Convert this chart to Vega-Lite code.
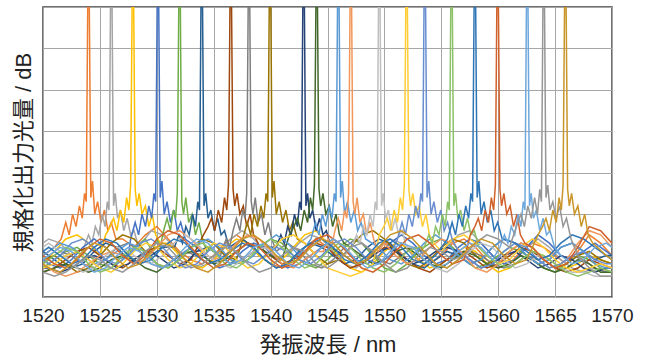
{
  "$schema": "https://vega.github.io/schema/vega-lite/v6.json",
  "autosize": "none",
  "width": 569,
  "height": 290,
  "padding": {"left": 43, "top": 7, "right": 36, "bottom": 61},
  "background": "white",
  "config": {
    "font": "Liberation Sans, Noto Sans CJK JP, sans-serif",
    "view": {"stroke": "#404040", "strokeWidth": 1.5}
  },
  "data": {
    "format": {"type": "csv", "parse": {"s": "string", "x": "number", "y": "number"}},
    "values": "s,x,y\n1,1520,-60\n1,1521,-58\n1,1521.6,-56\n1,1522,-52\n1,1522.3,-55\n1,1522.6,-50\n1,1522.9,-53\n1,1523.2,-48\n1,1523.45,-51\n1,1523.65,-45\n1,1523.8,-47\n1,1523.93,0\n1,1524.07,0\n1,1524.2,-46\n1,1524.35,-42\n1,1524.55,-50\n1,1524.8,-47\n1,1525.1,-52\n1,1525.4,-49\n1,1525.7,-54\n1,1526,-52\n1,1526.4,-56\n1,1527,-56\n1,1528,-58\n1,1529,-55\n1,1530,-53\n1,1531,-56\n1,1532,-59\n1,1533,-61\n1,1534,-62\n1,1535,-60\n1,1536,-57\n1,1537,-55\n1,1538,-57\n1,1539,-60\n1,1540,-62\n1,1541,-63\n1,1542,-61\n1,1543,-58\n1,1544,-56\n1,1545,-58\n1,1546,-61\n1,1547,-63\n1,1548,-62\n1,1549,-59\n1,1550,-57\n1,1551,-58\n1,1552,-61\n1,1553,-63\n1,1554,-62\n1,1555,-60\n1,1556,-57\n1,1557,-56\n1,1558,-58\n1,1559,-61\n1,1560,-63\n1,1561,-62\n1,1562,-59\n1,1563,-57\n1,1564,-58\n1,1565,-60\n1,1566,-62\n1,1567,-59\n1,1568,-55\n1,1569,-57\n1,1570,-60\n2,1520,-57\n2,1520.5,-56\n2,1521.5,-57\n2,1522.5,-60\n2,1523.5,-62\n2,1523.6,-58\n2,1524,-55\n2,1524.3,-57\n2,1524.6,-53\n2,1524.9,-55\n2,1525.2,-50\n2,1525.45,-53\n2,1525.65,-47\n2,1525.8,-49\n2,1525.93,0\n2,1526.07,0\n2,1526.2,-48\n2,1526.35,-45\n2,1526.55,-51\n2,1526.8,-49\n2,1527.1,-54\n2,1527.4,-51\n2,1527.7,-55\n2,1528,-54\n2,1528.4,-58\n2,1529.5,-54\n2,1530.5,-55\n2,1531.5,-58\n2,1532.5,-61\n2,1533.5,-63\n2,1534.5,-62\n2,1535.5,-59\n2,1536.5,-56\n2,1537.5,-54\n2,1538.5,-56\n2,1539.5,-59\n2,1540.5,-61\n2,1541.5,-60\n2,1542.5,-57\n2,1543.5,-55\n2,1544.5,-56\n2,1545.5,-59\n2,1546.5,-62\n2,1547.5,-63\n2,1548.5,-61\n2,1549.5,-58\n2,1550.5,-56\n2,1551.5,-57\n2,1552.5,-60\n2,1553.5,-62\n2,1554.5,-61\n2,1555.5,-58\n2,1556.5,-55\n2,1557.5,-54\n2,1558.5,-57\n2,1559.5,-60\n2,1560.5,-62\n2,1561.5,-61\n2,1562.5,-58\n2,1563.5,-56\n2,1564.5,-58\n2,1565.5,-61\n2,1566.5,-63\n2,1567.5,-64\n2,1568.5,-63\n2,1569.5,-64\n2,1570,-64\n3,1520,-62\n3,1521,-59\n3,1522,-56\n3,1523,-55\n3,1524,-57\n3,1525,-60\n3,1525.5,-55\n3,1525.9,-53\n3,1526.2,-51\n3,1526.5,-54\n3,1526.8,-49\n3,1527.1,-52\n3,1527.35,-46\n3,1527.55,-49\n3,1527.7,-43\n3,1527.83,0\n3,1527.97,0\n3,1528.1,-44\n3,1528.25,-48\n3,1528.45,-45\n3,1528.7,-50\n3,1529,-48\n3,1529.3,-53\n3,1529.6,-50\n3,1529.9,-55\n3,1530.3,-57\n3,1531,-57\n3,1532,-60\n3,1533,-62\n3,1534,-63\n3,1535,-61\n3,1536,-58\n3,1537,-56\n3,1538,-57\n3,1539,-60\n3,1540,-62\n3,1541,-61\n3,1542,-58\n3,1543,-55\n3,1544,-54\n3,1545,-57\n3,1546,-60\n3,1547,-63\n3,1548,-64\n3,1549,-62\n3,1550,-59\n3,1551,-57\n3,1552,-58\n3,1553,-61\n3,1554,-63\n3,1555,-62\n3,1556,-60\n3,1557,-58\n3,1558,-59\n3,1559,-62\n3,1560,-64\n3,1561,-63\n3,1562,-61\n3,1563,-59\n3,1564,-60\n3,1565,-62\n3,1566,-63\n3,1567,-62\n3,1568,-60\n3,1569,-61\n3,1570,-62\n4,1520,-61\n4,1520.5,-62\n4,1521.5,-63\n4,1522.5,-61\n4,1523.5,-58\n4,1524.5,-56\n4,1525.5,-58\n4,1526.5,-61\n4,1527.5,-60\n4,1527.7,-56\n4,1528.1,-52\n4,1528.4,-55\n4,1528.7,-50\n4,1529,-53\n4,1529.3,-48\n4,1529.55,-51\n4,1529.75,-45\n4,1529.9,-47\n4,1530.03,0\n4,1530.17,0\n4,1530.3,-46\n4,1530.45,-42\n4,1530.65,-50\n4,1530.9,-47\n4,1531.2,-52\n4,1531.5,-49\n4,1531.8,-54\n4,1532.1,-52\n4,1532.5,-56\n4,1533.5,-58\n4,1534.5,-61\n4,1535.5,-63\n4,1536.5,-62\n4,1537.5,-59\n4,1538.5,-57\n4,1539.5,-58\n4,1540.5,-61\n4,1541.5,-63\n4,1542.5,-62\n4,1543.5,-60\n4,1544.5,-58\n4,1545.5,-56\n4,1546.5,-58\n4,1547.5,-61\n4,1548.5,-62\n4,1549.5,-60\n4,1550.5,-57\n4,1551.5,-55\n4,1552.5,-57\n4,1553.5,-60\n4,1554.5,-62\n4,1555.5,-61\n4,1556.5,-58\n4,1557.5,-56\n4,1558.5,-57\n4,1559.5,-60\n4,1560.5,-62\n4,1561.5,-61\n4,1562.5,-58\n4,1563.5,-55\n4,1564.5,-57\n4,1565.5,-60\n4,1566.5,-61\n4,1567.5,-59\n4,1568.5,-57\n4,1569.5,-59\n4,1570,-60\n5,1520,-63\n5,1521,-61\n5,1522,-59\n5,1523,-58\n5,1524,-60\n5,1525,-62\n5,1526,-63\n5,1527,-61\n5,1528,-58\n5,1529,-56\n5,1529.6,-59\n5,1530,-56\n5,1530.3,-58\n5,1530.6,-54\n5,1530.9,-51\n5,1531.2,-54\n5,1531.45,-49\n5,1531.65,-51\n5,1531.8,-45\n5,1531.93,0\n5,1532.07,0\n5,1532.2,-47\n5,1532.35,-50\n5,1532.55,-46\n5,1532.8,-52\n5,1533.1,-50\n5,1533.4,-55\n5,1533.7,-52\n5,1534,-56\n5,1534.4,-59\n5,1535,-57\n5,1536,-60\n5,1537,-62\n5,1538,-61\n5,1539,-58\n5,1540,-56\n5,1541,-57\n5,1542,-60\n5,1543,-62\n5,1544,-63\n5,1545,-61\n5,1546,-58\n5,1547,-56\n5,1548,-57\n5,1549,-60\n5,1550,-63\n5,1551,-64\n5,1552,-62\n5,1553,-59\n5,1554,-57\n5,1555,-56\n5,1556,-58\n5,1557,-61\n5,1558,-63\n5,1559,-62\n5,1560,-60\n5,1561,-58\n5,1562,-59\n5,1563,-61\n5,1564,-63\n5,1565,-64\n5,1566,-62\n5,1567,-60\n5,1568,-61\n5,1569,-63\n5,1570,-64\n6,1520,-59\n6,1520.5,-60\n6,1521.5,-62\n6,1522.5,-63\n6,1523.5,-62\n6,1524.5,-59\n6,1525.5,-57\n6,1526.5,-58\n6,1527.5,-61\n6,1528.5,-62\n6,1529.5,-60\n6,1530.5,-58\n6,1531.55,-58\n6,1531.95,-55\n6,1532.25,-57\n6,1532.55,-53\n6,1532.85,-55\n6,1533.15,-50\n6,1533.4,-53\n6,1533.6,-47\n6,1533.75,-49\n6,1533.88,0\n6,1534.02,0\n6,1534.15,-48\n6,1534.3,-45\n6,1534.5,-51\n6,1534.75,-49\n6,1535.05,-54\n6,1535.35,-51\n6,1535.65,-55\n6,1535.95,-54\n6,1536.35,-58\n6,1537.5,-56\n6,1538.5,-58\n6,1539.5,-61\n6,1540.5,-63\n6,1541.5,-62\n6,1542.5,-59\n6,1543.5,-57\n6,1544.5,-58\n6,1545.5,-60\n6,1546.5,-62\n6,1547.5,-61\n6,1548.5,-58\n6,1549.5,-56\n6,1550.5,-57\n6,1551.5,-60\n6,1552.5,-62\n6,1553.5,-63\n6,1554.5,-61\n6,1555.5,-59\n6,1556.5,-60\n6,1557.5,-62\n6,1558.5,-61\n6,1559.5,-58\n6,1560.5,-56\n6,1561.5,-57\n6,1562.5,-60\n6,1563.5,-62\n6,1564.5,-61\n6,1565.5,-58\n6,1566.5,-57\n6,1567.5,-59\n6,1568.5,-61\n6,1569.5,-60\n6,1570,-60\n7,1520,-64\n7,1521,-63\n7,1522,-61\n7,1523,-59\n7,1524,-58\n7,1525,-60\n7,1526,-62\n7,1527,-63\n7,1528,-61\n7,1529,-59\n7,1530,-58\n7,1531,-60\n7,1532,-62\n7,1533,-61\n7,1534.1,-55\n7,1534.5,-53\n7,1534.8,-51\n7,1535.1,-54\n7,1535.4,-49\n7,1535.7,-52\n7,1535.95,-46\n7,1536.15,-49\n7,1536.3,-43\n7,1536.43,0\n7,1536.57,0\n7,1536.7,-44\n7,1536.85,-48\n7,1537.05,-45\n7,1537.3,-50\n7,1537.6,-48\n7,1537.9,-53\n7,1538.2,-50\n7,1538.5,-55\n7,1538.9,-57\n7,1539,-58\n7,1540,-60\n7,1541,-62\n7,1542,-61\n7,1543,-59\n7,1544,-57\n7,1545,-58\n7,1546,-61\n7,1547,-63\n7,1548,-62\n7,1549,-60\n7,1550,-58\n7,1551,-59\n7,1552,-61\n7,1553,-63\n7,1554,-64\n7,1555,-62\n7,1556,-60\n7,1557,-59\n7,1558,-61\n7,1559,-63\n7,1560,-62\n7,1561,-60\n7,1562,-58\n7,1563,-59\n7,1564,-61\n7,1565,-63\n7,1566,-64\n7,1567,-63\n7,1568,-61\n7,1569,-62\n7,1570,-63\n8,1520,-62\n8,1520.5,-61\n8,1521.5,-59\n8,1522.5,-60\n8,1523.5,-62\n8,1524.5,-63\n8,1525.5,-61\n8,1526.5,-58\n8,1527.5,-57\n8,1528.5,-59\n8,1529.5,-62\n8,1530.5,-63\n8,1531.5,-61\n8,1532.5,-59\n8,1533.5,-60\n8,1534.5,-62\n8,1535.5,-61\n8,1535.7,-59\n8,1536.1,-56\n8,1536.4,-58\n8,1536.7,-54\n8,1537,-51\n8,1537.3,-54\n8,1537.55,-49\n8,1537.75,-51\n8,1537.9,-45\n8,1538.03,0\n8,1538.17,0\n8,1538.3,-47\n8,1538.45,-50\n8,1538.65,-46\n8,1538.9,-52\n8,1539.2,-50\n8,1539.5,-55\n8,1539.8,-52\n8,1540.1,-56\n8,1540.5,-59\n8,1541.5,-57\n8,1542.5,-59\n8,1543.5,-62\n8,1544.5,-63\n8,1545.5,-61\n8,1546.5,-58\n8,1547.5,-56\n8,1548.5,-58\n8,1549.5,-61\n8,1550.5,-62\n8,1551.5,-60\n8,1552.5,-58\n8,1553.5,-59\n8,1554.5,-62\n8,1555.5,-63\n8,1556.5,-61\n8,1557.5,-59\n8,1558.5,-60\n8,1559.5,-62\n8,1560.5,-63\n8,1561.5,-62\n8,1562.5,-60\n8,1563.5,-61\n8,1564.5,-63\n8,1565.5,-62\n8,1566.5,-60\n8,1567.5,-61\n8,1568.5,-63\n8,1569.5,-64\n8,1570,-64\n9,1520,-61\n9,1521,-60\n9,1522,-62\n9,1523,-64\n9,1524,-63\n9,1525,-60\n9,1526,-57\n9,1527,-55\n9,1528,-56\n9,1529,-59\n9,1530,-62\n9,1531,-63\n9,1532,-61\n9,1533,-58\n9,1534,-56\n9,1535,-57\n9,1536,-60\n9,1537,-61\n9,1537.55,-56\n9,1537.95,-52\n9,1538.25,-55\n9,1538.55,-50\n9,1538.85,-53\n9,1539.15,-48\n9,1539.4,-51\n9,1539.6,-45\n9,1539.75,-47\n9,1539.88,0\n9,1540.02,0\n9,1540.15,-46\n9,1540.3,-42\n9,1540.5,-50\n9,1540.75,-47\n9,1541.05,-52\n9,1541.35,-49\n9,1541.65,-54\n9,1541.95,-52\n9,1542.35,-56\n9,1543,-57\n9,1544,-60\n9,1545,-62\n9,1546,-61\n9,1547,-58\n9,1548,-55\n9,1549,-54\n9,1550,-56\n9,1551,-59\n9,1552,-62\n9,1553,-63\n9,1554,-61\n9,1555,-58\n9,1556,-56\n9,1557,-57\n9,1558,-60\n9,1559,-62\n9,1560,-61\n9,1561,-59\n9,1562,-57\n9,1563,-58\n9,1564,-61\n9,1565,-63\n9,1566,-62\n9,1567,-60\n9,1568,-59\n9,1569,-61\n9,1570,-62\n10,1520,-63\n10,1520.5,-63\n10,1521.5,-64\n10,1522.5,-63\n10,1523.5,-61\n10,1524.5,-60\n10,1525.5,-61\n10,1526.5,-63\n10,1527.5,-62\n10,1528.5,-60\n10,1529.5,-59\n10,1530.5,-61\n10,1531.5,-63\n10,1532.5,-62\n10,1533.5,-59\n10,1534.5,-58\n10,1535.5,-60\n10,1536.5,-62\n10,1537.5,-61\n10,1538.5,-59\n10,1539.5,-58\n10,1540.5,-58\n10,1540.9,-55\n10,1541.2,-57\n10,1541.5,-53\n10,1541.8,-55\n10,1542.1,-50\n10,1542.35,-53\n10,1542.55,-47\n10,1542.7,-49\n10,1542.83,0\n10,1542.97,0\n10,1543.1,-48\n10,1543.25,-45\n10,1543.45,-51\n10,1543.7,-49\n10,1544,-54\n10,1544.3,-51\n10,1544.6,-55\n10,1544.9,-54\n10,1545.3,-58\n10,1546.5,-60\n10,1547.5,-62\n10,1548.5,-61\n10,1549.5,-59\n10,1550.5,-58\n10,1551.5,-60\n10,1552.5,-62\n10,1553.5,-61\n10,1554.5,-59\n10,1555.5,-58\n10,1556.5,-59\n10,1557.5,-61\n10,1558.5,-63\n10,1559.5,-62\n10,1560.5,-60\n10,1561.5,-59\n10,1562.5,-61\n10,1563.5,-63\n10,1564.5,-62\n10,1565.5,-60\n10,1566.5,-61\n10,1567.5,-63\n10,1568.5,-64\n10,1569.5,-63\n10,1570,-63\n11,1520,-64\n11,1521,-63\n11,1522,-62\n11,1523,-63\n11,1524,-64\n11,1525,-63\n11,1526,-61\n11,1527,-60\n11,1528,-61\n11,1529,-63\n11,1530,-64\n11,1531,-62\n11,1532,-60\n11,1533,-59\n11,1534,-60\n11,1535,-62\n11,1536,-61\n11,1537,-59\n11,1538,-57\n11,1539,-58\n11,1540,-60\n11,1541,-61\n11,1541.65,-55\n11,1542.05,-53\n11,1542.35,-51\n11,1542.65,-54\n11,1542.95,-49\n11,1543.25,-52\n11,1543.5,-46\n11,1543.7,-49\n11,1543.85,-43\n11,1543.98,0\n11,1544.12,0\n11,1544.25,-44\n11,1544.4,-48\n11,1544.6,-45\n11,1544.85,-50\n11,1545.15,-48\n11,1545.45,-53\n11,1545.75,-50\n11,1546.05,-55\n11,1546.45,-57\n11,1547,-58\n11,1548,-60\n11,1549,-62\n11,1550,-61\n11,1551,-59\n11,1552,-58\n11,1553,-60\n11,1554,-62\n11,1555,-63\n11,1556,-61\n11,1557,-59\n11,1558,-60\n11,1559,-62\n11,1560,-63\n11,1561,-62\n11,1562,-60\n11,1563,-61\n11,1564,-63\n11,1565,-64\n11,1566,-63\n11,1567,-61\n11,1568,-62\n11,1569,-64\n11,1570,-64\n12,1520,-60\n12,1520.5,-59\n12,1521.5,-57\n12,1522.5,-58\n12,1523.5,-60\n12,1524.5,-62\n12,1525.5,-61\n12,1526.5,-59\n12,1527.5,-57\n12,1528.5,-58\n12,1529.5,-61\n12,1530.5,-63\n12,1531.5,-62\n12,1532.5,-59\n12,1533.5,-57\n12,1534.5,-56\n12,1535.5,-58\n12,1536.5,-61\n12,1537.5,-62\n12,1538.5,-60\n12,1539.5,-57\n12,1540.5,-55\n12,1541.5,-57\n12,1542.5,-60\n12,1543.55,-56\n12,1543.95,-52\n12,1544.25,-55\n12,1544.55,-50\n12,1544.85,-53\n12,1545.15,-48\n12,1545.4,-51\n12,1545.6,-45\n12,1545.75,-47\n12,1545.88,0\n12,1546.02,0\n12,1546.15,-46\n12,1546.3,-42\n12,1546.5,-50\n12,1546.75,-47\n12,1547.05,-52\n12,1547.35,-49\n12,1547.65,-54\n12,1547.95,-52\n12,1548.35,-56\n12,1549.5,-58\n12,1550.5,-61\n12,1551.5,-62\n12,1552.5,-60\n12,1553.5,-57\n12,1554.5,-55\n12,1555.5,-57\n12,1556.5,-60\n12,1557.5,-62\n12,1558.5,-61\n12,1559.5,-58\n12,1560.5,-56\n12,1561.5,-57\n12,1562.5,-60\n12,1563.5,-62\n12,1564.5,-61\n12,1565.5,-58\n12,1566.5,-57\n12,1567.5,-59\n12,1568.5,-62\n12,1569.5,-63\n12,1570,-63\n13,1520,-62\n13,1521,-64\n13,1522,-65\n13,1523,-64\n13,1524,-62\n13,1525,-60\n13,1526,-59\n13,1527,-60\n13,1528,-62\n13,1529,-61\n13,1530,-58\n13,1531,-55\n13,1532,-54\n13,1533,-56\n13,1534,-59\n13,1535,-61\n13,1536,-60\n13,1537,-57\n13,1538,-55\n13,1539,-56\n13,1540,-59\n13,1541,-62\n13,1542,-63\n13,1543,-61\n13,1544,-59\n13,1544.65,-59\n13,1545.05,-56\n13,1545.35,-58\n13,1545.65,-54\n13,1545.95,-51\n13,1546.25,-54\n13,1546.5,-49\n13,1546.7,-51\n13,1546.85,-45\n13,1546.98,0\n13,1547.12,0\n13,1547.25,-47\n13,1547.4,-50\n13,1547.6,-46\n13,1547.85,-52\n13,1548.15,-50\n13,1548.45,-55\n13,1548.75,-52\n13,1549.05,-56\n13,1549.45,-59\n13,1550,-57\n13,1551,-60\n13,1552,-62\n13,1553,-61\n13,1554,-58\n13,1555,-56\n13,1556,-57\n13,1557,-60\n13,1558,-63\n13,1559,-64\n13,1560,-62\n13,1561,-59\n13,1562,-57\n13,1563,-58\n13,1564,-61\n13,1565,-63\n13,1566,-61\n13,1567,-57\n13,1568,-54\n13,1569,-55\n13,1570,-58\n14,1520,-58\n14,1520.5,-57\n14,1521.5,-59\n14,1522.5,-62\n14,1523.5,-64\n14,1524.5,-63\n14,1525.5,-60\n14,1526.5,-58\n14,1527.5,-59\n14,1528.5,-61\n14,1529.5,-62\n14,1530.5,-60\n14,1531.5,-57\n14,1532.5,-55\n14,1533.5,-57\n14,1534.5,-60\n14,1535.5,-62\n14,1536.5,-63\n14,1537.5,-61\n14,1538.5,-59\n14,1539.5,-58\n14,1540.5,-60\n14,1541.5,-62\n14,1542.5,-61\n14,1543.5,-58\n14,1544.5,-56\n14,1545.5,-57\n14,1546.5,-60\n14,1547.15,-58\n14,1547.55,-55\n14,1547.85,-57\n14,1548.15,-53\n14,1548.45,-55\n14,1548.75,-50\n14,1549,-53\n14,1549.2,-47\n14,1549.35,-49\n14,1549.48,0\n14,1549.62,0\n14,1549.75,-48\n14,1549.9,-45\n14,1550.1,-51\n14,1550.35,-49\n14,1550.65,-54\n14,1550.95,-51\n14,1551.25,-55\n14,1551.55,-54\n14,1551.95,-58\n14,1552.5,-58\n14,1553.5,-61\n14,1554.5,-63\n14,1555.5,-64\n14,1556.5,-62\n14,1557.5,-59\n14,1558.5,-57\n14,1559.5,-58\n14,1560.5,-61\n14,1561.5,-63\n14,1562.5,-62\n14,1563.5,-60\n14,1564.5,-61\n14,1565.5,-63\n14,1566.5,-64\n14,1567.5,-64\n14,1568.5,-65\n14,1569.5,-65\n14,1570,-65\n15,1520,-63\n15,1521,-62\n15,1522,-60\n15,1523,-59\n15,1524,-61\n15,1525,-63\n15,1526,-64\n15,1527,-62\n15,1528,-59\n15,1529,-57\n15,1530,-58\n15,1531,-61\n15,1532,-63\n15,1533,-62\n15,1534,-59\n15,1535,-57\n15,1536,-58\n15,1537,-61\n15,1538,-63\n15,1539,-62\n15,1540,-59\n15,1541,-56\n15,1542,-55\n15,1543,-57\n15,1544,-60\n15,1545,-63\n15,1546,-64\n15,1547,-65\n15,1548,-64\n15,1549,-62\n15,1549.55,-55\n15,1549.95,-53\n15,1550.25,-51\n15,1550.55,-54\n15,1550.85,-49\n15,1551.15,-52\n15,1551.4,-46\n15,1551.6,-49\n15,1551.75,-43\n15,1551.88,0\n15,1552.02,0\n15,1552.15,-44\n15,1552.3,-48\n15,1552.5,-45\n15,1552.75,-50\n15,1553.05,-48\n15,1553.35,-53\n15,1553.65,-50\n15,1553.95,-55\n15,1554.35,-57\n15,1555,-59\n15,1556,-56\n15,1557,-55\n15,1558,-57\n15,1559,-60\n15,1560,-62\n15,1561,-61\n15,1562,-58\n15,1563,-56\n15,1564,-58\n15,1565,-61\n15,1566,-63\n15,1567,-64\n15,1568,-63\n15,1569,-62\n15,1570,-63\n16,1520,-61\n16,1520.5,-62\n16,1521.5,-60\n16,1522.5,-57\n16,1523.5,-56\n16,1524.5,-58\n16,1525.5,-61\n16,1526.5,-62\n16,1527.5,-60\n16,1528.5,-57\n16,1529.5,-56\n16,1530.5,-58\n16,1531.5,-61\n16,1532.5,-63\n16,1533.5,-62\n16,1534.5,-59\n16,1535.5,-57\n16,1536.5,-58\n16,1537.5,-61\n16,1538.5,-62\n16,1539.5,-60\n16,1540.5,-58\n16,1541.5,-59\n16,1542.5,-61\n16,1543.5,-62\n16,1544.5,-60\n16,1545.5,-57\n16,1546.5,-56\n16,1547.5,-58\n16,1548.5,-61\n16,1549.5,-62\n16,1550.5,-60\n16,1551.15,-56\n16,1551.55,-52\n16,1551.85,-55\n16,1552.15,-50\n16,1552.45,-53\n16,1552.75,-48\n16,1553,-51\n16,1553.2,-45\n16,1553.35,-47\n16,1553.48,0\n16,1553.62,0\n16,1553.75,-46\n16,1553.9,-42\n16,1554.1,-50\n16,1554.35,-47\n16,1554.65,-52\n16,1554.95,-49\n16,1555.25,-54\n16,1555.55,-52\n16,1555.95,-56\n16,1556.5,-59\n16,1557.5,-61\n16,1558.5,-63\n16,1559.5,-62\n16,1560.5,-59\n16,1561.5,-57\n16,1562.5,-58\n16,1563.5,-61\n16,1564.5,-63\n16,1565.5,-62\n16,1566.5,-60\n16,1567.5,-59\n16,1568.5,-61\n16,1569.5,-62\n16,1570,-62\n17,1520,-62\n17,1521,-60\n17,1522,-58\n17,1523,-59\n17,1524,-62\n17,1525,-64\n17,1526,-63\n17,1527,-60\n17,1528,-58\n17,1529,-59\n17,1530,-62\n17,1531,-63\n17,1532,-61\n17,1533,-58\n17,1534,-57\n17,1535,-59\n17,1536,-62\n17,1537,-63\n17,1538,-61\n17,1539,-58\n17,1540,-56\n17,1541,-58\n17,1542,-61\n17,1543,-63\n17,1544,-62\n17,1545,-59\n17,1546,-57\n17,1547,-58\n17,1548,-61\n17,1549,-63\n17,1550,-64\n17,1551,-62\n17,1552,-59\n17,1553,-58\n17,1553.5,-58\n17,1553.9,-55\n17,1554.2,-57\n17,1554.5,-53\n17,1554.8,-55\n17,1555.1,-50\n17,1555.35,-53\n17,1555.55,-47\n17,1555.7,-49\n17,1555.83,0\n17,1555.97,0\n17,1556.1,-48\n17,1556.25,-45\n17,1556.45,-51\n17,1556.7,-49\n17,1557,-54\n17,1557.3,-51\n17,1557.6,-55\n17,1557.9,-54\n17,1558.3,-58\n17,1559,-60\n17,1560,-62\n17,1561,-63\n17,1562,-61\n17,1563,-59\n17,1564,-60\n17,1565,-62\n17,1566,-64\n17,1567,-65\n17,1568,-64\n17,1569,-63\n17,1570,-64\n18,1520,-59\n18,1520.5,-58\n18,1521.5,-60\n18,1522.5,-62\n18,1523.5,-61\n18,1524.5,-58\n18,1525.5,-56\n18,1526.5,-57\n18,1527.5,-60\n18,1528.5,-62\n18,1529.5,-61\n18,1530.5,-58\n18,1531.5,-56\n18,1532.5,-57\n18,1533.5,-60\n18,1534.5,-62\n18,1535.5,-61\n18,1536.5,-59\n18,1537.5,-57\n18,1538.5,-58\n18,1539.5,-61\n18,1540.5,-63\n18,1541.5,-62\n18,1542.5,-59\n18,1543.5,-57\n18,1544.5,-56\n18,1545.5,-58\n18,1546.5,-61\n18,1547.5,-62\n18,1548.5,-60\n18,1549.5,-57\n18,1550.5,-56\n18,1551.5,-58\n18,1552.5,-61\n18,1553.5,-62\n18,1554.5,-60\n18,1555.55,-56\n18,1555.95,-52\n18,1556.25,-55\n18,1556.55,-50\n18,1556.85,-53\n18,1557.15,-48\n18,1557.4,-51\n18,1557.6,-45\n18,1557.75,-47\n18,1557.88,0\n18,1558.02,0\n18,1558.15,-46\n18,1558.3,-42\n18,1558.5,-50\n18,1558.75,-47\n18,1559.05,-52\n18,1559.35,-49\n18,1559.65,-54\n18,1559.95,-52\n18,1560.35,-56\n18,1561.5,-57\n18,1562.5,-59\n18,1563.5,-61\n18,1564.5,-60\n18,1565.5,-57\n18,1566.5,-55\n18,1567.5,-56\n18,1568.5,-58\n18,1569.5,-60\n18,1570,-61\n19,1520,-60\n19,1521,-62\n19,1522,-63\n19,1523,-61\n19,1524,-58\n19,1525,-56\n19,1526,-57\n19,1527,-60\n19,1528,-62\n19,1529,-60\n19,1530,-56\n19,1531,-54\n19,1532,-55\n19,1533,-58\n19,1534,-61\n19,1535,-63\n19,1536,-62\n19,1537,-59\n19,1538,-57\n19,1539,-58\n19,1540,-61\n19,1541,-63\n19,1542,-62\n19,1543,-59\n19,1544,-56\n19,1545,-55\n19,1546,-57\n19,1547,-60\n19,1548,-63\n19,1549,-64\n19,1550,-62\n19,1551,-59\n19,1552,-56\n19,1553,-55\n19,1554,-57\n19,1555,-60\n19,1556,-62\n19,1557,-61\n19,1557.55,-55\n19,1557.95,-53\n19,1558.25,-51\n19,1558.55,-54\n19,1558.85,-49\n19,1559.15,-52\n19,1559.4,-46\n19,1559.6,-49\n19,1559.75,-43\n19,1559.88,0\n19,1560.02,0\n19,1560.15,-44\n19,1560.3,-48\n19,1560.5,-45\n19,1560.75,-50\n19,1561.05,-48\n19,1561.35,-53\n19,1561.65,-50\n19,1561.95,-55\n19,1562.35,-57\n19,1563,-58\n19,1564,-61\n19,1565,-63\n19,1566,-62\n19,1567,-58\n19,1568,-53\n19,1569,-54\n19,1570,-57\n20,1520,-61\n20,1520.5,-60\n20,1521.5,-58\n20,1522.5,-59\n20,1523.5,-62\n20,1524.5,-64\n20,1525.5,-63\n20,1526.5,-60\n20,1527.5,-58\n20,1528.5,-59\n20,1529.5,-62\n20,1530.5,-63\n20,1531.5,-61\n20,1532.5,-58\n20,1533.5,-56\n20,1534.5,-57\n20,1535.5,-60\n20,1536.5,-62\n20,1537.5,-61\n20,1538.5,-58\n20,1539.5,-57\n20,1540.5,-59\n20,1541.5,-62\n20,1542.5,-63\n20,1543.5,-61\n20,1544.5,-58\n20,1545.5,-56\n20,1546.5,-58\n20,1547.5,-61\n20,1548.5,-63\n20,1549.5,-62\n20,1550.5,-59\n20,1551.5,-57\n20,1552.5,-58\n20,1553.5,-61\n20,1554.5,-63\n20,1555.5,-62\n20,1556.5,-59\n20,1557.5,-57\n20,1558.5,-58\n20,1559.5,-61\n20,1560.15,-58\n20,1560.55,-55\n20,1560.85,-57\n20,1561.15,-53\n20,1561.45,-55\n20,1561.75,-50\n20,1562,-53\n20,1562.2,-47\n20,1562.35,-49\n20,1562.48,0\n20,1562.62,0\n20,1562.75,-48\n20,1562.9,-45\n20,1563.1,-51\n20,1563.35,-49\n20,1563.65,-54\n20,1563.95,-51\n20,1564.25,-55\n20,1564.55,-54\n20,1564.95,-58\n20,1565.5,-60\n20,1566.5,-62\n20,1567.5,-61\n20,1568.5,-58\n20,1569.5,-57\n20,1570,-58\n21,1520,-64\n21,1521,-65\n21,1522,-64\n21,1523,-62\n21,1524,-60\n21,1525,-61\n21,1526,-63\n21,1527,-64\n21,1528,-62\n21,1529,-59\n21,1530,-57\n21,1531,-58\n21,1532,-61\n21,1533,-63\n21,1534,-62\n21,1535,-60\n21,1536,-58\n21,1537,-59\n21,1538,-62\n21,1539,-64\n21,1540,-63\n21,1541,-60\n21,1542,-58\n21,1543,-59\n21,1544,-62\n21,1545,-63\n21,1546,-61\n21,1547,-58\n21,1548,-57\n21,1549,-59\n21,1550,-62\n21,1551,-64\n21,1552,-63\n21,1553,-60\n21,1554,-58\n21,1555,-59\n21,1556,-61\n21,1557,-60\n21,1558,-57\n21,1559,-55\n21,1560,-56\n21,1561,-58\n21,1561.6,-53\n21,1562,-50\n21,1562.3,-53\n21,1562.6,-48\n21,1562.9,-51\n21,1563.2,-46\n21,1563.45,-50\n21,1563.65,-44\n21,1563.8,-47\n21,1563.93,0\n21,1564.07,0\n21,1564.2,-46\n21,1564.35,-43\n21,1564.55,-49\n21,1564.8,-47\n21,1565.1,-51\n21,1565.4,-48\n21,1565.7,-53\n21,1566,-51\n21,1566.4,-56\n21,1567,-60\n21,1568,-63\n21,1569,-65\n21,1570,-65\n22,1520,-62\n22,1520.5,-63\n22,1521.5,-64\n22,1522.5,-62\n22,1523.5,-59\n22,1524.5,-57\n22,1525.5,-58\n22,1526.5,-61\n22,1527.5,-63\n22,1528.5,-62\n22,1529.5,-59\n22,1530.5,-57\n22,1531.5,-58\n22,1532.5,-61\n22,1533.5,-63\n22,1534.5,-64\n22,1535.5,-62\n22,1536.5,-59\n22,1537.5,-56\n22,1538.5,-55\n22,1539.5,-57\n22,1540.5,-60\n22,1541.5,-62\n22,1542.5,-61\n22,1543.5,-58\n22,1544.5,-56\n22,1545.5,-57\n22,1546.5,-60\n22,1547.5,-62\n22,1548.5,-61\n22,1549.5,-58\n22,1550.5,-55\n22,1551.5,-54\n22,1552.5,-56\n22,1553.5,-59\n22,1554.5,-62\n22,1555.5,-63\n22,1556.5,-61\n22,1557.5,-58\n22,1558.5,-56\n22,1559.5,-57\n22,1560.5,-60\n22,1561.5,-62\n22,1562.5,-61\n22,1563.5,-55\n22,1563.9,-53\n22,1564.2,-51\n22,1564.5,-54\n22,1564.8,-49\n22,1565.1,-52\n22,1565.35,-46\n22,1565.55,-49\n22,1565.7,-43\n22,1565.83,0\n22,1565.97,0\n22,1566.1,-44\n22,1566.25,-48\n22,1566.45,-45\n22,1566.7,-50\n22,1567,-48\n22,1567.3,-53\n22,1567.6,-50\n22,1567.9,-55\n22,1568.3,-57\n22,1569.5,-60\n22,1570,-61\n"
  },
  "mark": {"type": "line", "strokeWidth": 1.5, "clip": true},
  "encoding": {
    "x": {
      "field": "x",
      "type": "quantitative",
      "scale": {"domain": [1520, 1570], "nice": false, "zero": false},
      "axis": {
        "title": "発振波長 / nm",
        "values": [1520, 1525, 1530, 1535, 1540, 1545, 1550, 1555, 1560, 1565, 1570],
        "format": "d",
        "grid": true,
        "gridColor": "#a6a6a6",
        "gridWidth": 1,
        "ticks": false,
        "domain": false,
        "labelOverlap": false,
        "labelFlush": false,
        "labelBound": false,
        "labelFontSize": 19,
        "labelColor": "#222222",
        "labelPadding": 9,
        "titleFontSize": 22,
        "titleFontWeight": "normal",
        "titleColor": "#222222",
        "titlePadding": 9
      }
    },
    "y": {
      "field": "y",
      "type": "quantitative",
      "scale": {"domain": [-70, 0], "nice": false, "zero": false},
      "axis": {
        "title": "規格化出力光量 / dB",
        "values": [-70, -60, -50, -40, -30, -20, -10, 0],
        "grid": true,
        "gridColor": "#a6a6a6",
        "gridWidth": 1,
        "labels": false,
        "ticks": false,
        "domain": false,
        "titleFontSize": 22,
        "titleFontWeight": "normal",
        "titleColor": "#222222",
        "titlePadding": 8
      }
    },
    "color": {
      "field": "s",
      "type": "nominal",
      "legend": null,
      "scale": {
        "domain": ["1", "2", "3", "4", "5", "6", "7", "8", "9", "10", "11", "12", "13", "14", "15", "16", "17", "18", "19", "20", "21", "22"],
        "range": ["#ED7D31", "#A5A5A5", "#FFC000", "#4472C4", "#70AD47", "#255E91", "#9E480E", "#7F7F7F", "#997300", "#264478", "#43682B", "#5B9BD5", "#F1975A", "#BFBFBF", "#FFCD33", "#698ED0", "#8CC168", "#2E75B6", "#D0612A", "#6FA8DC", "#969696", "#C9962A"]
      }
    },
    "detail": {"field": "s", "type": "nominal"}
  }
}
